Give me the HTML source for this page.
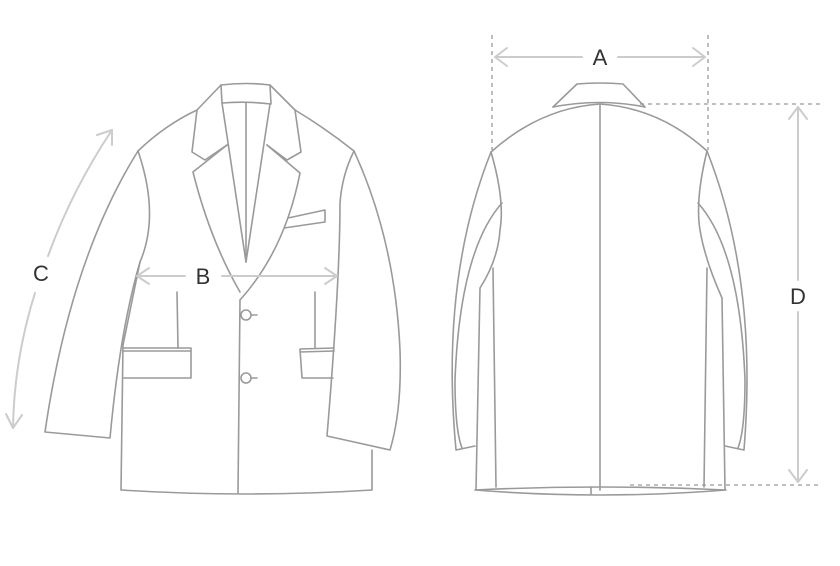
<!DOCTYPE html>
<html><head><style>html,body{margin:0;padding:0;background:#fff}svg{display:block}</style></head>
<body>
<svg width="840" height="566" viewBox="0 0 840 566" xmlns="http://www.w3.org/2000/svg">
<g fill="none" stroke="#9a9a9a" stroke-width="1.6" stroke-linejoin="round" stroke-linecap="round">
<!-- FRONT -->
<path d="M221,85 Q246,82 270,85 L271,104 Q246,101 222,103 Z"/>
<path d="M221,85 L197,110 Q165,125 138,151"/>
<path d="M270,85 L295,110 Q325,128 354,151"/>
<path d="M197,110 L192,152 L205,160 L227,145"/>
<path d="M227,145 L193,172 Q210,240 240,292"/>
<path d="M295,110 L301,152 L287,160 L267,145"/>
<path d="M267,145 L300,173 Q285,250 240,300"/>
<path d="M222,103 L246,262 L270,104"/>
<path d="M246,103 L246,262"/>
<path d="M240,300 L238,493"/>
<circle cx="246" cy="315" r="5"/><path d="M251,315 L257,315"/>
<circle cx="246" cy="378" r="5"/><path d="M251,378 L257,378"/>
<path d="M138,151 Q160,215 140,262 L123,345 L121,490 Q246,498 372,490 L372,450"/>
<path d="M138,151 Q70,260 45,432 L110,438 Q120,330 140,262"/>
<path d="M354,151 Q395,240 400,350 Q402,410 390,450 L327,436 Q340,280 340,203 Q342,175 354,151"/>
<path d="M123,348 L191,348 L191,378 L123,378"/><path d="M123,351 L191,351"/>
<path d="M177,292 L178,348"/>
<path d="M334,348 L300,349 L302,378 L333,378"/><path d="M300,352 L334,351"/>
<path d="M315,292 L315,348"/>
<path d="M288,218 L325,210 L325,222 L284,228"/>
<!-- BACK -->
<path d="M553,107 L577,84 Q600,82 623,84 L645,107"/>
<path d="M553,107 Q600,98 645,107"/>
<path d="M491,152 Q540,108 600,104 Q660,108 707,151"/>
<path d="M600,104 L600,490"/>
<path d="M491,152 Q440,280 456,450 L475,446"/>
<path d="M491,152 Q505,200 500,230 Q498,260 480,288 L476,490"/>
<path d="M502,203 Q460,250 455,380 Q455,430 462,448"/>
<path d="M493,268 L496,487"/>
<path d="M707,151 Q758,280 744,450 L725,446"/>
<path d="M707,151 Q695,200 700,230 Q705,260 722,298 L725,490"/>
<path d="M698,203 Q740,250 745,380 Q745,430 738,448"/>
<path d="M707,268 L704,487"/>
<path d="M475,490 Q600,484 726,490 Q600,500 475,490"/>
<path d="M591,487 L591,494"/>
</g>
<!-- dashed -->
<g stroke="#9a9a9a" stroke-width="1.3" stroke-dasharray="4,4" fill="none">
<path d="M492,35 L492,150"/><path d="M708,35 L708,150"/>
<path d="M640,104 L822,104"/><path d="M630,485 L822,485"/>
</g>
<!-- measurement arrows -->
<g stroke="#cccccc" stroke-width="2" fill="none" stroke-linecap="round" stroke-linejoin="round">
<path d="M495,57 L582,57"/><path d="M618,57 L705,57"/>
<path d="M507,48 L495,57 L507,66"/><path d="M693,48 L705,57 L693,66"/>
<path d="M798,107 L798,280"/><path d="M798,312 L798,482"/>
<path d="M789,119 L798,107 L807,119"/><path d="M789,470 L798,482 L807,470"/>
<path d="M137,276 L185,276"/><path d="M222,276 L337,276"/>
<path d="M149,268 L137,276 L149,284"/><path d="M325,268 L337,276 L325,284"/>
<path d="M112,130 Q72,190 48,256"/><path d="M35,293 Q14,360 13,428"/>
<path d="M97,135 L112,130 L112,145"/><path d="M6,414 L13,428 L22,415"/>
</g>
<g font-family="Liberation Sans, sans-serif" font-size="22" fill="#333" text-anchor="middle">
<text x="600" y="65">A</text>
<text x="203" y="284">B</text>
<text x="41" y="281">C</text>
<text x="798" y="304">D</text>
</g>
</svg>
</body></html>
